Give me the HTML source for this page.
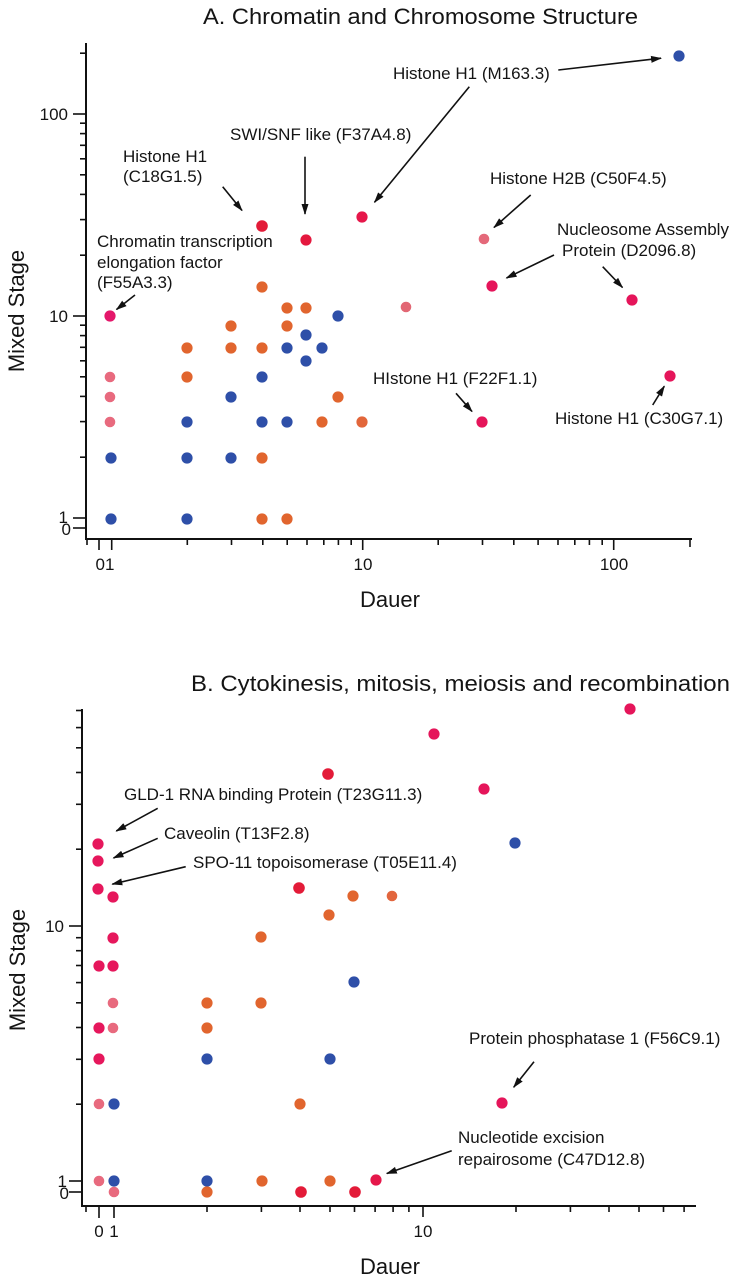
<!DOCTYPE html>
<html>
<head>
<meta charset="utf-8">
<style>
html,body{margin:0;padding:0;background:#fff;}
svg{display:block;}
text{font-family:"Liberation Sans",Arial,sans-serif;fill:#141414;}
.t{font-size:17px;}
.k{font-size:17px;}
.ti{font-size:22.5px;}
.ax{font-size:22px;}
</style>
</head>
<body>
<svg width="740" height="1280" viewBox="0 0 740 1280" xmlns="http://www.w3.org/2000/svg">
<defs>
<marker id="ah" markerUnits="userSpaceOnUse" markerWidth="11" markerHeight="8" refX="10" refY="4" orient="auto">
<path d="M0,0.5 L11,4 L0,7.5 z" fill="#111"/>
</marker>
</defs>
<rect x="0" y="0" width="740" height="1280" fill="#fff"/>

<!-- ================= CHART A ================= -->
<text class="ti" x="203" y="24" textLength="435" lengthAdjust="spacingAndGlyphs">A. Chromatin and Chromosome Structure</text>

<g stroke="#111" stroke-width="2" fill="none">
<line x1="86" y1="43" x2="86" y2="540"/>
<line x1="85" y1="539" x2="692" y2="539"/>
</g>
<g stroke="#111" stroke-width="1.6">
<!-- y minor -->
<line x1="80" x2="86" y1="53.2" y2="53.2"/>
<line x1="80" x2="86" y1="123.2" y2="123.2"/>
<line x1="80" x2="86" y1="133.6" y2="133.6"/>
<line x1="80" x2="86" y1="145.3" y2="145.3"/>
<line x1="80" x2="86" y1="158.8" y2="158.8"/>
<line x1="80" x2="86" y1="174.8" y2="174.8"/>
<line x1="80" x2="86" y1="194.4" y2="194.4"/>
<line x1="80" x2="86" y1="219.6" y2="219.6"/>
<line x1="80" x2="86" y1="255.2" y2="255.2"/>
<line x1="80" x2="86" y1="325.2" y2="325.2"/>
<line x1="80" x2="86" y1="335.6" y2="335.6"/>
<line x1="80" x2="86" y1="347.3" y2="347.3"/>
<line x1="80" x2="86" y1="360.8" y2="360.8"/>
<line x1="80" x2="86" y1="376.8" y2="376.8"/>
<line x1="80" x2="86" y1="396.4" y2="396.4"/>
<line x1="80" x2="86" y1="421.6" y2="421.6"/>
<line x1="80" x2="86" y1="457.2" y2="457.2"/>
<!-- y major -->
<line x1="73" x2="86" y1="114" y2="114"/>
<line x1="73" x2="86" y1="316" y2="316"/>
<line x1="73" x2="86" y1="518" y2="518"/>
<line x1="73" x2="86" y1="528" y2="528"/>
<!-- x ticks -->
<line x1="87" x2="87" y1="539" y2="545"/>
<line x1="99" x2="99" y1="539" y2="550"/>
<line x1="111.7" x2="111.7" y1="539" y2="550"/>
<line x1="362.7" x2="362.7" y1="539" y2="550"/>
<line x1="613.7" x2="613.7" y1="539" y2="550"/>
<line x1="187.3" x2="187.3" y1="539" y2="545"/>
<line x1="231.5" x2="231.5" y1="539" y2="545"/>
<line x1="262.8" x2="262.8" y1="539" y2="545"/>
<line x1="287.2" x2="287.2" y1="539" y2="545"/>
<line x1="307" x2="307" y1="539" y2="545"/>
<line x1="323.8" x2="323.8" y1="539" y2="545"/>
<line x1="338.4" x2="338.4" y1="539" y2="545"/>
<line x1="351.2" x2="351.2" y1="539" y2="545"/>
<line x1="438.2" x2="438.2" y1="539" y2="545"/>
<line x1="482.5" x2="482.5" y1="539" y2="545"/>
<line x1="513.8" x2="513.8" y1="539" y2="545"/>
<line x1="538.1" x2="538.1" y1="539" y2="545"/>
<line x1="558" x2="558" y1="539" y2="545"/>
<line x1="574.8" x2="574.8" y1="539" y2="545"/>
<line x1="589.4" x2="589.4" y1="539" y2="545"/>
<line x1="602.2" x2="602.2" y1="539" y2="545"/>
<line x1="690" x2="690" y1="539" y2="547"/>
</g>

<!-- tick labels A -->
<text class="k" x="68" y="120" text-anchor="end">100</text>
<text class="k" x="68" y="322" text-anchor="end">10</text>
<text class="k" x="68" y="523" text-anchor="end">1</text>
<text class="k" x="71" y="535" text-anchor="end">0</text>
<text class="k" x="105" y="570" text-anchor="middle">01</text>
<text class="k" x="363" y="570" text-anchor="middle">10</text>
<text class="k" x="614" y="570" text-anchor="middle">100</text>

<text class="ax" x="390" y="607" text-anchor="middle">Dauer</text>
<text class="ax" transform="translate(24,311) rotate(-90)" text-anchor="middle">Mixed Stage</text>

<!-- annotations A -->
<text class="t" x="123" y="162">Histone H1</text>
<text class="t" x="123" y="182">(C18G1.5)</text>
<text class="t" x="230" y="140">SWI/SNF like (F37A4.8)</text>
<text class="t" x="97" y="247">Chromatin transcription</text>
<text class="t" x="97" y="268">elongation factor</text>
<text class="t" x="97" y="288">(F55A3.3)</text>
<text class="t" x="393" y="79">Histone H1 (M163.3)</text>
<text class="t" x="490" y="184">Histone H2B (C50F4.5)</text>
<text class="t" x="557" y="235">Nucleosome Assembly</text>
<text class="t" x="562" y="256">Protein (D2096.8)</text>
<text class="t" x="373" y="384">HIstone H1 (F22F1.1)</text>
<text class="t" x="555" y="424">Histone H1 (C30G7.1)</text>

<g stroke="#111" stroke-width="1.6" marker-end="url(#ah)">
<line x1="222.7" y1="186.7" x2="242" y2="210.5"/>
<line x1="305" y1="156.7" x2="305" y2="214"/>
<line x1="135" y1="295" x2="116.5" y2="309.5"/>
<line x1="558.3" y1="70" x2="661" y2="58.2"/>
<line x1="469.3" y1="86.7" x2="374.5" y2="202.3"/>
<line x1="530.7" y1="195" x2="494" y2="227.5"/>
<line x1="554" y1="255" x2="506.5" y2="278"/>
<line x1="602.7" y1="266.7" x2="622.5" y2="287.5"/>
<line x1="456" y1="393.3" x2="472" y2="411.5"/>
<line x1="652.7" y1="405" x2="664.3" y2="386.2"/>
</g>

<!-- dots A -->
<g>
<circle cx="679" cy="56" r="5.6" fill="#2e4fa8"/>
<circle cx="362" cy="217" r="5.6" fill="#e6174a"/>
<circle cx="262" cy="226" r="5.8" fill="#e31b38"/>
<circle cx="306" cy="240" r="5.6" fill="#e4183e"/>
<circle cx="484" cy="239" r="5.3" fill="#e4697a"/>
<circle cx="492" cy="286" r="5.6" fill="#e5155a"/>
<circle cx="632" cy="300" r="5.6" fill="#e5155a"/>
<circle cx="262" cy="287" r="5.6" fill="#e1652e"/>
<circle cx="287" cy="308" r="5.6" fill="#e1652e"/>
<circle cx="306" cy="308" r="5.6" fill="#e1652e"/>
<circle cx="406" cy="307" r="5.3" fill="#e26774"/>
<circle cx="110" cy="316" r="5.6" fill="#e4176a"/>
<circle cx="338" cy="316" r="5.6" fill="#2e4fa8"/>
<circle cx="231" cy="326" r="5.6" fill="#e1652e"/>
<circle cx="287" cy="326" r="5.6" fill="#e1652e"/>
<circle cx="306" cy="335" r="5.6" fill="#2e4fa8"/>
<circle cx="187" cy="348" r="5.6" fill="#e1652e"/>
<circle cx="231" cy="348" r="5.6" fill="#e1652e"/>
<circle cx="262" cy="348" r="5.6" fill="#e1652e"/>
<circle cx="287" cy="348" r="5.6" fill="#2e4fa8"/>
<circle cx="322" cy="348" r="5.6" fill="#2e4fa8"/>
<circle cx="306" cy="361" r="5.6" fill="#2e4fa8"/>
<circle cx="110" cy="377" r="5.3" fill="#e86a7e"/>
<circle cx="187" cy="377" r="5.6" fill="#e1652e"/>
<circle cx="262" cy="377" r="5.6" fill="#2e4fa8"/>
<circle cx="110" cy="397" r="5.3" fill="#e86a7e"/>
<circle cx="231" cy="397" r="5.6" fill="#2e4fa8"/>
<circle cx="338" cy="397" r="5.6" fill="#e1652e"/>
<circle cx="670" cy="376" r="5.6" fill="#e5155a"/>
<circle cx="110" cy="422" r="5.3" fill="#e86a7e"/>
<circle cx="187" cy="422" r="5.6" fill="#2e4fa8"/>
<circle cx="262" cy="422" r="5.6" fill="#2e4fa8"/>
<circle cx="287" cy="422" r="5.6" fill="#2e4fa8"/>
<circle cx="322" cy="422" r="5.6" fill="#e1652e"/>
<circle cx="362" cy="422" r="5.6" fill="#e2663a"/>
<circle cx="482" cy="422" r="5.6" fill="#e5155a"/>
<circle cx="111" cy="458" r="5.6" fill="#2e4fa8"/>
<circle cx="187" cy="458" r="5.6" fill="#2e4fa8"/>
<circle cx="231" cy="458" r="5.6" fill="#2e4fa8"/>
<circle cx="262" cy="458" r="5.6" fill="#e1652e"/>
<circle cx="111" cy="519" r="5.6" fill="#2e4fa8"/>
<circle cx="187" cy="519" r="5.6" fill="#2e4fa8"/>
<circle cx="262" cy="519" r="5.6" fill="#e1652e"/>
<circle cx="287" cy="519" r="5.6" fill="#e1652e"/>
</g>

<!-- ================= CHART B ================= -->
<text class="ti" x="191" y="691" textLength="539" lengthAdjust="spacingAndGlyphs">B. Cytokinesis, mitosis, meiosis and recombination</text>

<g stroke="#111" stroke-width="2" fill="none">
<line x1="82" y1="709" x2="82" y2="1207"/>
<line x1="81" y1="1206" x2="696" y2="1206"/>
</g>
<g stroke="#111" stroke-width="1.6">
<line x1="76" x2="82" y1="710.5" y2="710.5"/>
<line x1="76" x2="82" y1="727.6" y2="727.6"/>
<line x1="76" x2="82" y1="747.8" y2="747.8"/>
<line x1="76" x2="82" y1="772.5" y2="772.5"/>
<line x1="76" x2="82" y1="804.3" y2="804.3"/>
<line x1="76" x2="82" y1="849.2" y2="849.2"/>
<line x1="76" x2="82" y1="937.7" y2="937.7"/>
<line x1="76" x2="82" y1="950.7" y2="950.7"/>
<line x1="76" x2="82" y1="965.5" y2="965.5"/>
<line x1="76" x2="82" y1="982.6" y2="982.6"/>
<line x1="76" x2="82" y1="1002.8" y2="1002.8"/>
<line x1="76" x2="82" y1="1027.5" y2="1027.5"/>
<line x1="76" x2="82" y1="1059.3" y2="1059.3"/>
<line x1="76" x2="82" y1="1104.2" y2="1104.2"/>
<line x1="69" x2="82" y1="926" y2="926"/>
<line x1="69" x2="82" y1="1181" y2="1181"/>
<line x1="69" x2="82" y1="1192" y2="1192"/>
<!-- x ticks -->
<line x1="86" x2="86" y1="1206" y2="1212"/>
<line x1="99" x2="99" y1="1206" y2="1218"/>
<line x1="114" x2="114" y1="1206" y2="1218"/>
<line x1="423" x2="423" y1="1206" y2="1217"/>
<line x1="207" x2="207" y1="1206" y2="1212"/>
<line x1="261.4" x2="261.4" y1="1206" y2="1212"/>
<line x1="300" x2="300" y1="1206" y2="1212"/>
<line x1="330" x2="330" y1="1206" y2="1212"/>
<line x1="354.5" x2="354.5" y1="1206" y2="1212"/>
<line x1="375.1" x2="375.1" y1="1206" y2="1212"/>
<line x1="393.1" x2="393.1" y1="1206" y2="1212"/>
<line x1="408.9" x2="408.9" y1="1206" y2="1212"/>
<line x1="516" x2="516" y1="1206" y2="1212"/>
<line x1="570.4" x2="570.4" y1="1206" y2="1212"/>
<line x1="609" x2="609" y1="1206" y2="1212"/>
<line x1="639" x2="639" y1="1206" y2="1212"/>
<line x1="663.5" x2="663.5" y1="1206" y2="1212"/>
<line x1="684.1" x2="684.1" y1="1206" y2="1212"/>
</g>

<text class="k" x="64" y="932" text-anchor="end">10</text>
<text class="k" x="67" y="1187" text-anchor="end">1</text>
<text class="k" x="69" y="1199" text-anchor="end">0</text>
<text class="k" x="99" y="1237" text-anchor="middle">0</text>
<text class="k" x="114" y="1237" text-anchor="middle">1</text>
<text class="k" x="423" y="1237" text-anchor="middle">10</text>

<text class="ax" x="390" y="1274" text-anchor="middle">Dauer</text>
<text class="ax" transform="translate(25,970) rotate(-90)" text-anchor="middle">Mixed Stage</text>

<!-- annotations B -->
<text class="t" x="124" y="800">GLD-1 RNA binding Protein (T23G11.3)</text>
<text class="t" x="164" y="839">Caveolin (T13F2.8)</text>
<text class="t" x="193" y="868">SPO-11 topoisomerase (T05E11.4)</text>
<text class="t" x="469" y="1044">Protein phosphatase 1 (F56C9.1)</text>
<text class="t" x="458" y="1143">Nucleotide excision</text>
<text class="t" x="458" y="1165">repairosome (C47D12.8)</text>

<g stroke="#111" stroke-width="1.6" marker-end="url(#ah)">
<line x1="157.7" y1="808.3" x2="116.3" y2="831"/>
<line x1="157.7" y1="838.3" x2="113.5" y2="858"/>
<line x1="185.7" y1="866.7" x2="112.3" y2="884.2"/>
<line x1="534" y1="1061.7" x2="513.7" y2="1087.2"/>
<line x1="451.7" y1="1150.7" x2="386.8" y2="1173.5"/>
</g>

<!-- dots B -->
<g>
<circle cx="630" cy="709" r="5.6" fill="#e5155a"/>
<circle cx="434" cy="734" r="5.6" fill="#e5155a"/>
<circle cx="328" cy="774" r="5.8" fill="#e31b38"/>
<circle cx="484" cy="789" r="5.6" fill="#e5155a"/>
<circle cx="515" cy="843" r="5.6" fill="#2e4fa8"/>
<circle cx="98" cy="844" r="5.6" fill="#e6175c"/>
<circle cx="98" cy="861" r="5.6" fill="#e6175c"/>
<circle cx="98" cy="889" r="5.6" fill="#e6175c"/>
<circle cx="113" cy="897" r="5.6" fill="#e6175c"/>
<circle cx="299" cy="888" r="5.8" fill="#e31b38"/>
<circle cx="353" cy="896" r="5.6" fill="#e1652e"/>
<circle cx="392" cy="896" r="5.3" fill="#e2663e"/>
<circle cx="329" cy="915" r="5.6" fill="#e1652e"/>
<circle cx="261" cy="937" r="5.6" fill="#e1652e"/>
<circle cx="113" cy="938" r="5.6" fill="#e6175c"/>
<circle cx="99" cy="966" r="5.6" fill="#e6175c"/>
<circle cx="113" cy="966" r="5.6" fill="#e6175c"/>
<circle cx="354" cy="982" r="5.6" fill="#2e4fa8"/>
<circle cx="113" cy="1003" r="5.3" fill="#e86a7e"/>
<circle cx="207" cy="1003" r="5.6" fill="#e1652e"/>
<circle cx="261" cy="1003" r="5.6" fill="#e1652e"/>
<circle cx="99" cy="1028" r="5.6" fill="#e6175c"/>
<circle cx="113" cy="1028" r="5.3" fill="#e86a7e"/>
<circle cx="207" cy="1028" r="5.6" fill="#e1652e"/>
<circle cx="99" cy="1059" r="5.6" fill="#e6175c"/>
<circle cx="207" cy="1059" r="5.6" fill="#2e4fa8"/>
<circle cx="330" cy="1059" r="5.6" fill="#2e4fa8"/>
<circle cx="99" cy="1104" r="5.3" fill="#e86a7e"/>
<circle cx="114" cy="1104" r="5.6" fill="#2e4fa8"/>
<circle cx="300" cy="1104" r="5.6" fill="#e1652e"/>
<circle cx="502" cy="1103" r="5.6" fill="#e5155a"/>
<circle cx="99" cy="1181" r="5.3" fill="#e86a7e"/>
<circle cx="114" cy="1181" r="5.6" fill="#2e4fa8"/>
<circle cx="207" cy="1181" r="5.6" fill="#2e4fa8"/>
<circle cx="262" cy="1181" r="5.6" fill="#e1652e"/>
<circle cx="330" cy="1181" r="5.6" fill="#e1652e"/>
<circle cx="376" cy="1180" r="5.6" fill="#e5174a"/>
<circle cx="114" cy="1192" r="5.3" fill="#e86a7e"/>
<circle cx="207" cy="1192" r="5.6" fill="#e1652e"/>
<circle cx="301" cy="1192" r="5.8" fill="#e31b38"/>
<circle cx="355" cy="1192" r="5.8" fill="#e31b38"/>
</g>
</svg>
</body>
</html>
